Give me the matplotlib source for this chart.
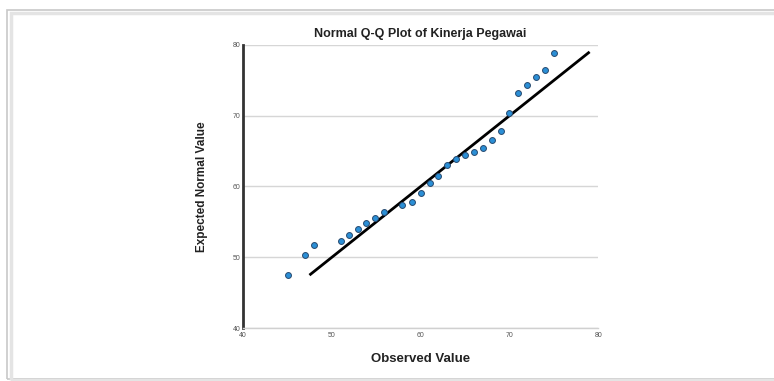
import matplotlib.pyplot as plt
from matplotlib.patches import Rectangle

plt.rcParams['font.family'] = ['Liberation Sans', 'DejaVu Sans']

# Q-Q data
observed = [45.1, 47.0, 48.0, 51.0, 51.9, 52.9, 53.9, 54.9, 55.9, 57.9, 59.0,
            60.0, 61.0, 62.0, 63.0, 64.0, 65.0, 66.0, 67.0, 68.0, 69.0, 70.0,
            71.0, 72.0, 73.0, 74.0, 75.0]
expected = [47.5, 50.3, 51.7, 52.3, 53.2, 54.0, 54.9, 55.6, 56.4, 57.4, 57.8,
            59.1, 60.5, 61.5, 63.1, 63.9, 64.5, 64.9, 65.5, 66.6, 67.9, 70.4,
            73.2, 74.4, 75.5, 76.5, 78.9]
ref_line = [47.6, 78.9]
ticks = [40, 50, 60, 70, 80]

fig = plt.figure(figsize=(7.74, 3.81), dpi=100)
fig.patch.set_facecolor('white')

# screenshot frame
fig.patches.append(Rectangle((0.009, 0.005), 1.2, 0.97, transform=fig.transFigure,
                             fill=False, edgecolor='#c8c8c8', lw=1.2, zorder=0))
fig.patches.append(Rectangle((0.0145, 0.003), 1.2, 0.963, transform=fig.transFigure,
                             fill=False, edgecolor='#e4e4e4', lw=2.5, zorder=0))

ax = fig.add_axes([0.314, 0.139, 0.459, 0.743])
ax.plot(ref_line, ref_line, color='black', lw=2, zorder=2)
ax.scatter(observed, expected, s=18, color='#2b8fd6', edgecolor='#27496e',
           linewidth=0.7, zorder=3)

ax.set_xlim(40, 80)
ax.set_ylim(40, 80)
ax.set_xticks(ticks)
ax.set_yticks(ticks)
ax.tick_params(labelsize=5, colors='#555555', length=0)
ax.tick_params(axis='x', pad=3)
ax.tick_params(axis='y', pad=2)
ax.yaxis.grid(True, color='#d6d6d6', lw=1)
ax.set_axisbelow(True)
for s in ['top', 'right']:
    ax.spines[s].set_visible(False)
ax.spines['left'].set_color('#333333')
ax.spines['left'].set_linewidth(2)
ax.spines['bottom'].set_color('#d0d0d0')
ax.spines['bottom'].set_linewidth(1)

ax.set_title('Normal Q-Q Plot of Kinerja Pegawai', fontsize=9, fontweight='bold',
             color='#222222', pad=6)
ax.set_xlabel('Observed Value', fontsize=9.5, fontweight='bold', color='#222222',
              labelpad=10)
ax.set_ylabel('Expected Normal Value', fontsize=8.5, fontweight='bold',
              color='#222222', labelpad=18)

fig.savefig('out.png', dpi=100)
